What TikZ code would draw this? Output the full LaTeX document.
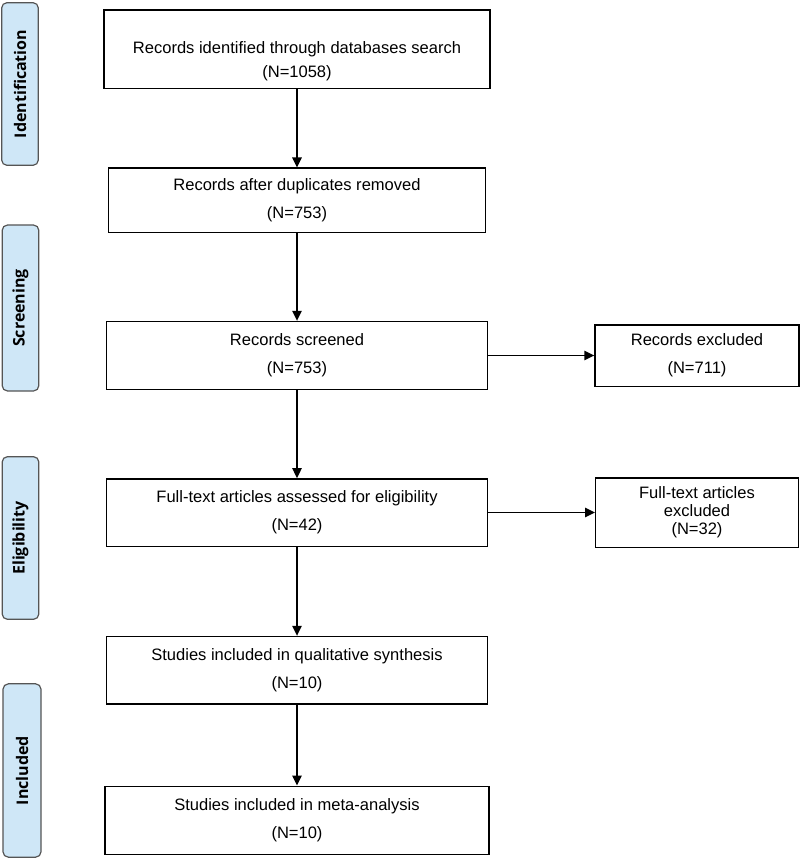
\documentclass[tikz,border=0pt]{standalone}
\usepackage{fontspec}
\setmainfont{Liberation Sans}
\newfontfamily\phasefont{Open Sans}
\usepackage{tikz}
\usetikzlibrary{arrows.meta, positioning}
\definecolor{phaseblue}{RGB}{207,231,247}
\definecolor{phaseedge}{RGB}{85,85,85}

\begin{document}
\begin{tikzpicture}[
  x=0.75pt, y=-0.75pt,
  node distance=66pt and 80pt,
  block/.style={
    rectangle, draw, line width=1pt,
    align=center, inner sep=2pt,
    font=\fontsize{12.4}{21}\selectfont
  },
  mainblock/.style={block, minimum width=286pt, minimum height=50.5pt},
  sideblock/.style={block, minimum width=153pt, minimum height=46pt},
  phase/.style={
    rectangle, draw=phaseedge, fill=phaseblue, line width=0.9pt,
    rounded corners=4pt, rotate=90,
    minimum height=27.5pt, minimum width=122pt,
    font=\phasefont\bfseries\fontsize{12}{14}\selectfont
  },
  arrow/.style={-{Triangle[length=7.5pt, width=7pt]}, line width=1.2pt},
]
\useasboundingbox (0,0) rectangle (800,859);

% ---- Main column ----
\node[mainblock, minimum width=289.5pt, minimum height=59pt,
  font=\fontsize{12.4}{18}\selectfont] (search) at (297,49.5)
  {\rule{0pt}{27pt}Records identified through databases search\\(N=1058)};
\node[mainblock, minimum width=283pt, minimum height=48pt,
  below=58.5pt of search] (dupl)
  {Records after duplicates removed\\(N=753)};
\node[mainblock, minimum height=51pt, below=of dupl] (screened)
  {Records screened\\(N=753)};
\node[mainblock, below=of screened] (fulltext)
  {Full-text articles assessed for eligibility\\(N=42)};
\node[mainblock, below=66.75pt of fulltext] (qual)
  {Studies included in qualitative synthesis\\(N=10)};
\node[mainblock, minimum width=288pt, minimum height=51pt,
  below=60.75pt of qual] (meta)
  {Studies included in meta-analysis\\(N=10)};

% Arrows (main)
\draw[arrow] (search) -- (dupl);
\draw[arrow] (dupl) -- (screened);
\draw[arrow] (screened) -- (fulltext);
\draw[arrow] (fulltext) -- (qual);
\draw[arrow] (qual) -- (meta);

% ---- Exclusions (right) ----
\node[sideblock, right=79.5pt of screened] (excl_rec)
  {Records excluded\\(N=711)};
\node[sideblock, minimum width=152pt, minimum height=52pt,
  font=\fontsize{12.4}{13.5}\selectfont, right=80pt of fulltext] (excl_full)
  {Full-text articles\\excluded\\(N=32)};

\draw[arrow] (screened) -- (excl_rec);
\draw[arrow] (fulltext) -- (excl_full);

% ---- Phase labels (left) ----
\node[phase] (ident) at (20,84) {Identification};
\node[phase, minimum width=124.5pt] (screen) at (20.5,308) {Screening};
\node[phase] (elig) at (20.5,538) {Eligibility};
\node[phase, minimum width=130pt, minimum height=28.5pt] (incl) at (22,770.5) {Included};

\end{tikzpicture}
\end{document}
